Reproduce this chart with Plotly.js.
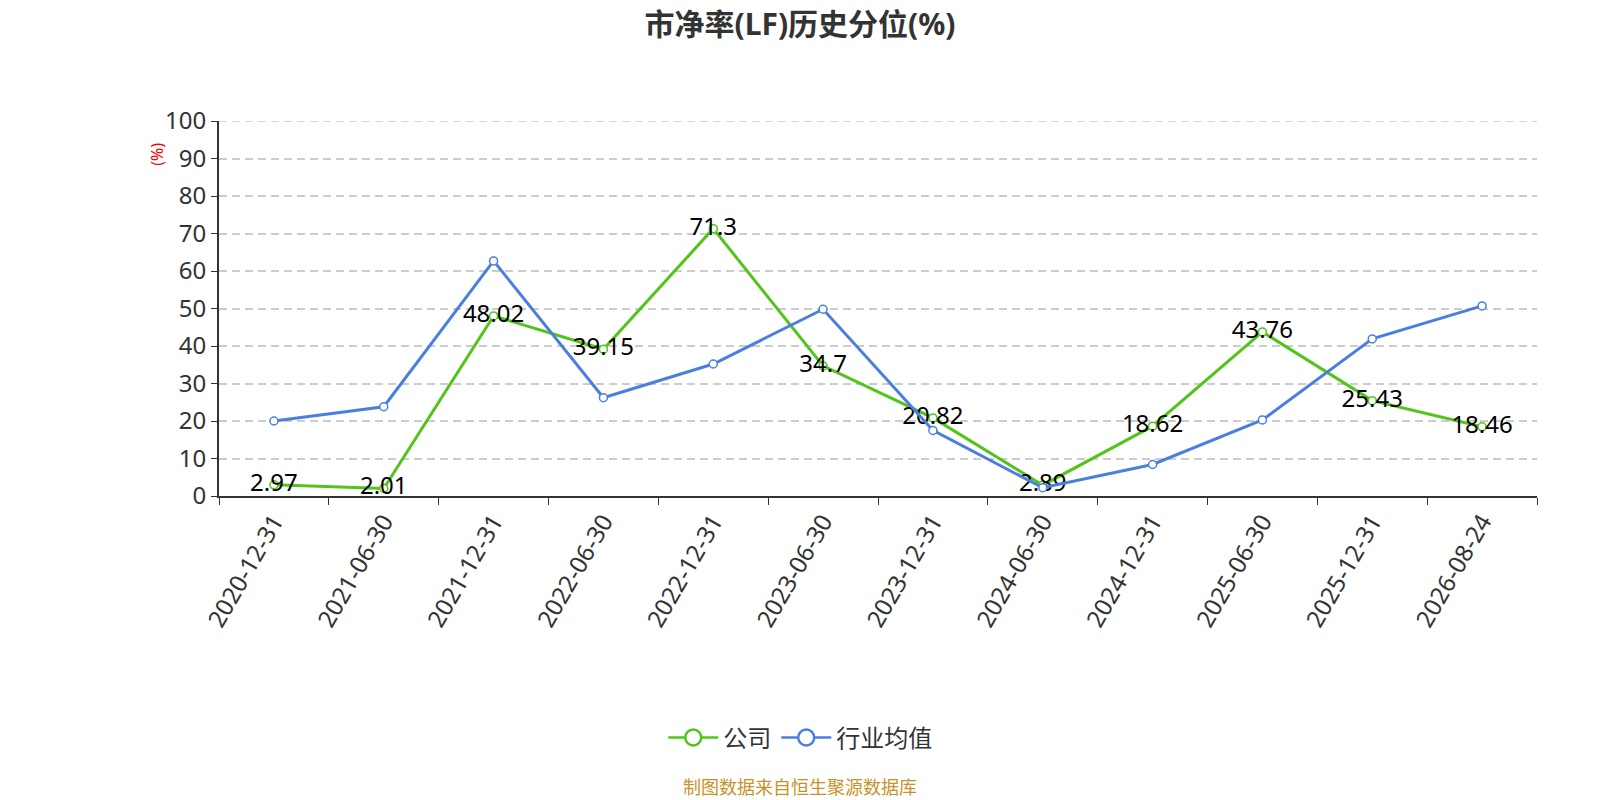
<!DOCTYPE html>
<html>
<head>
<meta charset="utf-8">
<script src="https://cdn.plot.ly/plotly-3.0.1.min.js"></script>
<style>
  html, body { margin: 0; padding: 0; background: #fff; }
  #chart { width: 1600px; height: 800px; }
</style>
</head>
<body>
<div id="chart"></div>
<script>
const dates = ['2020-12-31', '2021-06-30', '2021-12-31', '2022-06-30', '2022-12-31', '2023-06-30',
               '2023-12-31', '2024-06-30', '2024-12-31', '2025-06-30', '2025-12-31', '2026-08-24'];
const company = [2.97, 2.01, 48.02, 39.15, 71.3, 34.7, 20.82, 2.89, 18.62, 43.76, 25.43, 18.46];
const industry = [20.0, 23.8, 62.7, 26.2, 35.2, 49.8, 17.5, 2.2, 8.4, 20.3, 41.9, 50.7];

const green = '#52c41a';
const blue = '#4a7fe0';
const font = '"Noto Sans", "Noto Sans CJK SC", sans-serif';
const gridDash = '8px,5px';

const data = [
    {
        x: dates,
        y: company,
        name: '公司',
        type: 'scatter',
        mode: 'lines+markers+text',
        text: company.map(v => String(v)),
        textposition: 'middle center',
        textfont: {size: 24, color: '#000', family: font},
        line: {color: green, width: 3},
        marker: {symbol: 'circle', size: 8, color: '#fff', line: {color: green, width: 1.5}},
        cliponaxis: false,
        showlegend: false
    },
    {
        x: dates,
        y: industry,
        name: '行业均值',
        type: 'scatter',
        mode: 'lines+markers',
        line: {color: blue, width: 3},
        marker: {symbol: 'circle', size: 8, color: '#fff', line: {color: blue, width: 1.5}},
        cliponaxis: false,
        showlegend: false
    },
    // legend entries with the bigger symbols used in the key
    {
        x: [null], y: [null], name: '公司', type: 'scatter', mode: 'lines+markers',
        line: {color: green, width: 2.5},
        marker: {symbol: 'circle', size: 20, color: '#fff', line: {color: green, width: 2.5}}
    },
    {
        x: [null], y: [null], name: '行业均值', type: 'scatter', mode: 'lines+markers',
        line: {color: blue, width: 2.5},
        marker: {symbol: 'circle', size: 20, color: '#fff', line: {color: blue, width: 2.5}}
    }
];

const layout = {
    width: 1600,
    height: 800,
    paper_bgcolor: '#fff',
    plot_bgcolor: '#fff',
    font: {family: font, color: '#333'},
    showlegend: true,
    title: {
        text: '<b>市净率(LF)历史分位(%)</b>',
        x: 0.5, xanchor: 'center',
        y: 0.97, yanchor: 'middle',
        font: {size: 30, color: '#333', family: font}
    },
    margin: {l: 219, r: 63, t: 121, b: 304, pad: 0},
    xaxis: {
        type: 'category',
        range: [-0.5, 11.5],
        autorange: false,
        tickangle: -60,
        tickson: 'boundaries',
        ticks: 'outside',
        ticklen: 7,
        tickcolor: '#333',
        showline: true,
        linecolor: '#333',
        linewidth: 2,
        showgrid: false,
        zeroline: false,
        tickfont: {size: 24, color: '#333', family: font}
    },
    yaxis: {
        range: [0, 100],
        autorange: false,
        dtick: 10,
        ticks: 'outside',
        ticklen: 6,
        tickcolor: '#333',
        showline: true,
        linecolor: '#333',
        linewidth: 2,
        gridcolor: '#cccccc',
        griddash: gridDash,
        gridwidth: 1.5,
        zeroline: false,
        tickfont: {size: 24, color: '#333', family: font}
    },
    legend: {
        orientation: 'h',
        x: 0.441, xanchor: 'center',
        y: -0.645, yanchor: 'middle',
        font: {size: 24, color: '#333', family: font},
        itemwidth: 50
    },
    // top gridline at 100 (plotly skips the one on the plot edge)
    shapes: [
        {
            type: 'line', xref: 'paper', yref: 'y',
            x0: 0, x1: 1, y0: 100, y1: 100,
            line: {color: '#cccccc', width: 1.5, dash: gridDash},
            layer: 'below'
        }
    ],
    annotations: [
        {
            text: '(%)',
            xref: 'paper', yref: 'paper',
            x: -0.047, y: 0.91,
            xanchor: 'center', yanchor: 'middle',
            textangle: -90,
            showarrow: false,
            font: {size: 16, color: 'red', family: font}
        },
        {
            text: '制图数据来自恒生聚源数据库',
            xref: 'paper', yref: 'paper',
            x: 0.441, y: -0.775,
            xanchor: 'center', yanchor: 'middle',
            showarrow: false,
            font: {size: 18, color: '#c8922a', family: font}
        }
    ]
};

Plotly.newPlot('chart', data, layout, {displayModeBar: false});
</script>
</body>
</html>
